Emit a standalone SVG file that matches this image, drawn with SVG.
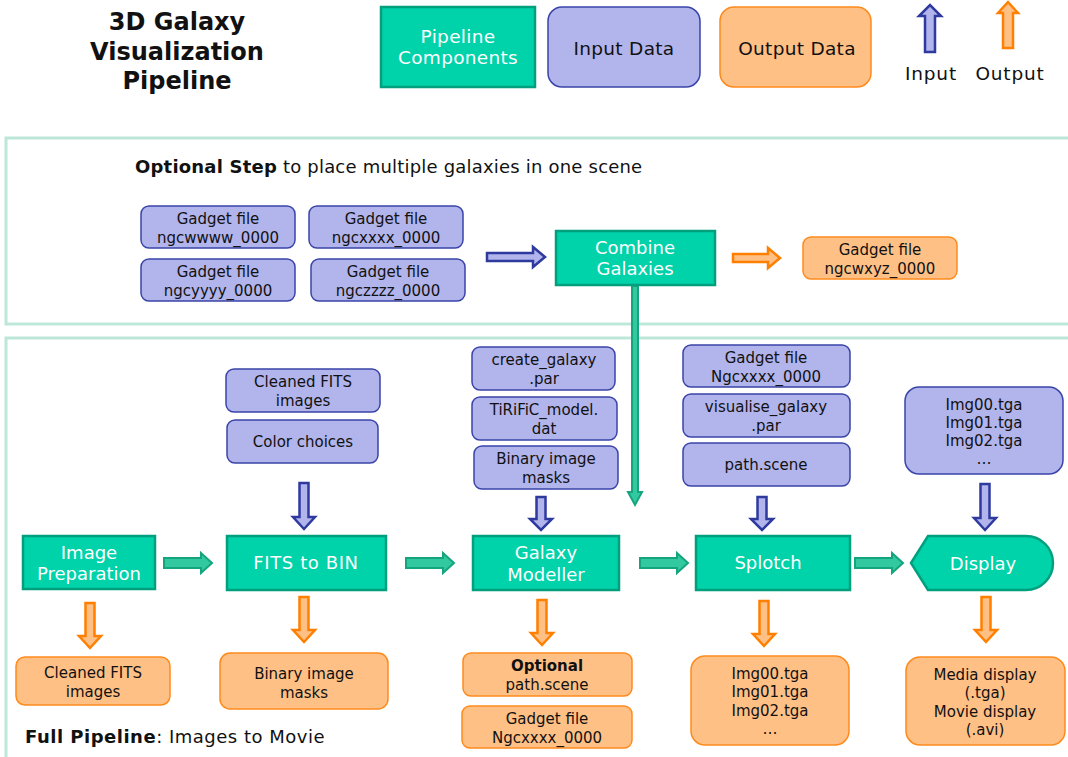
<svg xmlns="http://www.w3.org/2000/svg" width="1068" height="757" viewBox="0 0 1068 757">
<style>
text{font-family:"DejaVu Sans","Liberation Sans",sans-serif;text-anchor:middle;fill:#111}
.t{font-size:15px}
.g{fill:#00D2AA;stroke:#00A07E;stroke-width:2.5}
.gt{fill:#fff;font-size:18px}
.in{fill:#B2B4EC;stroke:#3A44A8;stroke-width:1.5}
.out{fill:#FFC086;stroke:#FF8A1C;stroke-width:1.5}
.frame{fill:none;stroke:#BDE8D8;stroke-width:3}
.ag{fill:#33C9A0;stroke:#14A47E;stroke-width:2}
.ab{fill:#B2B4EC;stroke:#2E3A9E;stroke-width:2.5}
.ao{fill:#FFC086;stroke:#FF7F00;stroke-width:2.5}
.lg{font-size:18.5px;letter-spacing:0.3px}
</style>
<defs>
<path id="gR" d="M0,-5H37V-10L48,0L37,10V5H0Z"/>
<path id="oD" d="M-4.5,0V33H-11L0,45L11,33H4.5V0Z"/>
<path id="bD" d="M-4.5,0V34H-11L0,46L11,34H4.5V0Z"/>
<path id="bDs" d="M-4.5,0V22H-11L0,33L11,22H4.5V0Z"/>
</defs>
<rect width="1068" height="757" fill="#fff"/>
<g id="frames">
<rect class="frame" x="6" y="138" width="1080" height="186"/>
<rect class="frame" x="6" y="338" width="1080" height="440"/>
</g>
<g id="title">
<text x="177" y="30" style="font-size:24px;font-weight:bold">3D Galaxy</text>
<text x="177" y="60" style="font-size:24px;font-weight:bold">Visualization</text>
<text x="177" y="89" style="font-size:24px;font-weight:bold">Pipeline</text>
</g>
<g id="legend">
<rect class="g" x="381" y="7" width="154" height="80"/>
<text class="gt lg" x="458" y="43">Pipeline</text>
<text class="gt lg" x="458" y="64">Components</text>
<rect class="in" x="548" y="7" width="152" height="80" rx="14"/>
<text class="lg" x="624" y="55">Input Data</text>
<rect class="out" x="720" y="7" width="151" height="80" rx="14"/>
<text class="lg" x="797" y="55">Output Data</text>
<path class="ab" d="M925,52V16H919L930,5L941,16H935V52Z"/>
<text class="lg" x="931" y="80" style="letter-spacing:0.8px">Input</text>
<path class="ao" d="M1003,48V13H998L1008,2L1018,13H1013V48Z"/>
<text class="lg" x="1010" y="80" style="letter-spacing:0.8px">Output</text>
</g>
<text x="135" y="173" style="font-size:18px;letter-spacing:0.2px;text-anchor:start"><tspan font-weight="bold">Optional Step</tspan> to place multiple galaxies in one scene</text>
<text x="25" y="743" style="font-size:18px;letter-spacing:0.5px;text-anchor:start"><tspan font-weight="bold">Full Pipeline</tspan>: Images to Movie</text>
<g id="connectors">
<path class="ab" d="M487,253H533V247L545,257L533,267V261H487Z"/>
<path class="ao" d="M733,254H768V248L780,258L768,268V262H733Z"/>
<path class="ag" d="M632,286V492H628L635,505L642,492H638V286Z"/>
<use href="#gR" class="ag" x="164" y="563"/>
<use href="#gR" class="ag" x="406" y="563"/>
<use href="#gR" class="ag" x="640" y="563"/>
<use href="#gR" class="ag" x="855" y="563"/>
<use href="#bD" class="ab" x="304" y="483"/>
<use href="#bDs" class="ab" x="541" y="497"/>
<use href="#bDs" class="ab" x="762" y="497"/>
<use href="#bD" class="ab" x="985" y="484"/>
<use href="#oD" class="ao" x="90" y="603"/>
<use href="#oD" class="ao" x="304" y="597"/>
<use href="#oD" class="ao" x="542" y="600"/>
<use href="#oD" class="ao" x="764" y="601"/>
<use href="#oD" class="ao" x="986" y="597"/>
</g>
<g id="gadget-w"><rect class="in" x="141" y="206" width="154" height="42" rx="8"/><text class="t" x="218" y="224">Gadget file</text><text class="t" x="218" y="243">ngcwwww_0000</text></g>
<g id="gadget-x"><rect class="in" x="309" y="206" width="154" height="42" rx="8"/><text class="t" x="386" y="224">Gadget file</text><text class="t" x="386" y="243">ngcxxxx_0000</text></g>
<g id="gadget-y"><rect class="in" x="141" y="259" width="154" height="42" rx="8"/><text class="t" x="218" y="277">Gadget file</text><text class="t" x="218" y="296">ngcyyyy_0000</text></g>
<g id="gadget-z"><rect class="in" x="311" y="259" width="154" height="42" rx="8"/><text class="t" x="388" y="277">Gadget file</text><text class="t" x="388" y="296">ngczzzz_0000</text></g>
<g id="combine"><rect class="g" x="556" y="231" width="159" height="54"/><text class="gt" x="635" y="254">Combine</text><text class="gt" x="635" y="275">Galaxies</text></g>
<g id="gadget-out"><rect class="out" x="803" y="237" width="154" height="42" rx="8"/><text class="t" x="880" y="255">Gadget file</text><text class="t" x="880" y="274">ngcwxyz_0000</text></g>

<g id="image-prep"><rect class="g" x="23" y="536" width="132" height="53"/><text class="gt" x="89" y="559">Image</text><text class="gt" x="89" y="580">Preparation</text></g>
<g id="fits-bin"><rect class="g" x="227" y="536" width="159" height="54"/><text class="gt" x="306" y="569" style="letter-spacing:0.6px">FITS to BIN</text></g>
<g id="galaxy-modeller"><rect class="g" x="473" y="536" width="146" height="54"/><text class="gt" x="546" y="559">Galaxy</text><text class="gt" x="546" y="581">Modeller</text></g>
<g id="splotch"><rect class="g" x="696" y="536" width="154" height="54"/><text class="gt" x="768" y="569">Splotch</text></g>
<g id="display"><path class="g" d="M911,563L928,536H1026A27,27 0 0 1 1026,590H928Z"/><text class="gt" x="983" y="570">Display</text></g>

<g id="in-cleaned"><rect class="in" x="226" y="369" width="154" height="43" rx="8"/><text class="t" x="303" y="387">Cleaned FITS</text><text class="t" x="303" y="406">images</text></g>
<g id="in-color"><rect class="in" x="227" y="420" width="151" height="43" rx="8"/><text class="t" x="303" y="447">Color choices</text></g>
<g id="in-create"><rect class="in" x="472" y="347" width="143" height="43" rx="8"/><text class="t" x="544" y="365">create_galaxy</text><text class="t" x="544" y="384">.par</text></g>
<g id="in-tirific"><rect class="in" x="472" y="397" width="145" height="43" rx="8"/><text class="t" x="544" y="415">TiRiFiC_model.</text><text class="t" x="544" y="434">dat</text></g>
<g id="in-masks"><rect class="in" x="474" y="446" width="144" height="43" rx="8"/><text class="t" x="546" y="464">Binary image</text><text class="t" x="546" y="483">masks</text></g>
<g id="in-gadget"><rect class="in" x="683" y="345" width="167" height="42" rx="8"/><text class="t" x="766" y="363">Gadget file</text><text class="t" x="766" y="382">Ngcxxxx_0000</text></g>
<g id="in-vis"><rect class="in" x="683" y="394" width="167" height="43" rx="8"/><text class="t" x="766" y="412">visualise_galaxy</text><text class="t" x="766" y="431">.par</text></g>
<g id="in-path"><rect class="in" x="683" y="443" width="167" height="43" rx="8"/><text class="t" x="766" y="470">path.scene</text></g>
<g id="in-imgs"><rect class="in" x="905" y="387" width="158" height="87" rx="14"/><text class="t" x="984" y="410">Img00.tga</text><text class="t" x="984" y="428">Img01.tga</text><text class="t" x="984" y="446">Img02.tga</text><text class="t" x="984" y="464">…</text></g>

<g id="out-cleaned"><rect class="out" x="16" y="657" width="154" height="48" rx="9"/><text class="t" x="93" y="678">Cleaned FITS</text><text class="t" x="93" y="697">images</text></g>
<g id="out-masks"><rect class="out" x="220" y="653" width="168" height="56" rx="10"/><text class="t" x="304" y="679">Binary image</text><text class="t" x="304" y="698">masks</text></g>
<g id="out-path"><rect class="out" x="463" y="653" width="169" height="43" rx="8"/><text class="t" x="547" y="671" font-weight="bold">Optional</text><text class="t" x="547" y="690">path.scene</text></g>
<g id="out-gadget"><rect class="out" x="462" y="706" width="170" height="42" rx="8"/><text class="t" x="547" y="724">Gadget file</text><text class="t" x="547" y="743">Ngcxxxx_0000</text></g>
<g id="out-imgs"><rect class="out" x="691" y="656" width="158" height="89" rx="14"/><text class="t" x="770" y="679">Img00.tga</text><text class="t" x="770" y="697">Img01.tga</text><text class="t" x="770" y="716">Img02.tga</text><text class="t" x="770" y="734">…</text></g>
<g id="out-display"><rect class="out" x="906" y="657" width="159" height="88" rx="14"/><text class="t" x="985" y="680">Media display</text><text class="t" x="985" y="698">(.tga)</text><text class="t" x="985" y="717">Movie display</text><text class="t" x="985" y="735">(.avi)</text></g>
</svg>
